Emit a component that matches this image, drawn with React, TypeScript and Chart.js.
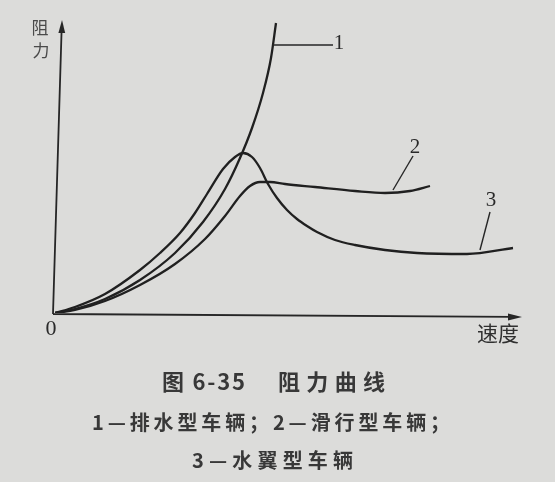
import React, { useEffect, useRef } from 'react';
import { Chart, registerables } from 'chart.js';

Chart.register(...registerables);

// 1 — displacement vessel
const displacementX = [0, 20, 50, 85, 120, 148, 170, 185, 197, 208, 216, 221];
const displacementY = [0, 4, 14, 33, 60, 91, 124, 155, 185, 220, 255, 290];
// 2 — planing vessel
const planingX = [0, 20, 50, 85, 120, 150, 170, 185, 195, 205, 215, 230, 260, 300, 330, 355, 375];
const planingY = [0, 3, 12, 28, 49, 74, 97, 117, 127, 131, 131, 129, 126, 122, 120, 122, 127];
// 3 — hydrofoil vessel
const hydrofoilX = [0, 20, 50, 85, 105, 125, 140, 152, 168, 180, 188, 197, 205, 213, 222, 232, 242, 252, 262, 280, 300, 330, 362, 412, 458];
const hydrofoilY = [0, 6, 19, 43, 60, 80, 100, 119, 144, 156, 160, 156, 145, 129, 115, 103, 94, 87, 81, 73, 68, 63, 60, 59, 65];

const curveLabels = ['1', '2', '3'];
// leader: anchor on curve -> end near label (data units); label centre (data units)
const leaderFromX = [218, 338, 425];
const leaderFromY = [268, 123, 63];
const leaderToX = [278, 358, 435];
const leaderToY = [268, 157, 101];
const labelX = [284, 360, 436];
const labelY = [270, 166, 113];

const yAxisTitle = ['阻', '力'];
const xAxisTitle = '速度';
const originLabel = '0';
const captionTitleA = '图 6-35';
const captionTitleB = '阻力曲线';
const captionLine2 = '1—排水型车辆；2—滑行型车辆；';
const captionLine3 = '3—水翼型车辆';

const toPts = (xs: number[], ys: number[]) => xs.map((x, i) => ({ x, y: ys[i] }));

function fitText(ctx: any, text: string, left: number, cy: number, width: number) {
  ctx.letterSpacing = '0px';
  const w0 = ctx.measureText(text).width;
  const n = Array.from(text).length;
  const sp = n > 1 ? (width - w0) / (n - 1) : 0;
  ctx.letterSpacing = sp + 'px';
  ctx.textAlign = 'left';
  ctx.fillText(text, left, cy);
  ctx.letterSpacing = '0px';
}

const paperPlugin = {
  id: 'paper',
  beforeDraw(chart: any) {
    const { ctx, width, height } = chart;
    ctx.save();
    ctx.fillStyle = '#dcdcda';
    ctx.fillRect(0, 0, width, height);
    ctx.restore();
  },
  beforeDatasetsDraw(chart: any) {
    const { ctx } = chart;
    const xs = chart.scales.x;
    const ys = chart.scales.y;
    const ox = xs.getPixelForValue(0) - 2;
    const oy = ys.getPixelForValue(0) + 1;
    const yTipX = ox + 9;
    const yTip = ys.getPixelForValue(ys.max) - 2;
    const xTip = xs.getPixelForValue(xs.max) + 2;
    const xTipY = oy + 3;
    ctx.save();
    ctx.strokeStyle = '#262626';
    ctx.fillStyle = '#262626';
    ctx.lineWidth = 1.8;
    ctx.beginPath();
    ctx.moveTo(ox, oy);
    ctx.lineTo(yTipX - 0.4, yTip + 10);
    ctx.moveTo(ox, oy);
    ctx.lineTo(xTip - 10, xTipY - 0.1);
    ctx.stroke();
    ctx.beginPath();
    ctx.moveTo(yTipX, yTip);
    ctx.lineTo(yTipX - 3.6, yTip + 13);
    ctx.lineTo(yTipX + 3.2, yTip + 13);
    ctx.closePath();
    ctx.fill();
    ctx.beginPath();
    ctx.moveTo(xTip, xTipY);
    ctx.lineTo(xTip - 14, xTipY - 3.5);
    ctx.lineTo(xTip - 14, xTipY + 3.5);
    ctx.closePath();
    ctx.fill();
    ctx.restore();
  },
  afterDraw(chart: any) {
    const { ctx } = chart;
    const xs = chart.scales.x;
    const ys = chart.scales.y;
    ctx.save();
    ctx.strokeStyle = '#262626';
    ctx.lineWidth = 1.4;
    for (let i = 0; i < curveLabels.length; i++) {
      ctx.beginPath();
      ctx.moveTo(xs.getPixelForValue(leaderFromX[i]), ys.getPixelForValue(leaderFromY[i]));
      ctx.lineTo(xs.getPixelForValue(leaderToX[i]), ys.getPixelForValue(leaderToY[i]));
      ctx.stroke();
    }
    ctx.fillStyle = '#2a2a2a';
    ctx.font = '21px "Liberation Serif", "DejaVu Serif", serif';
    ctx.textBaseline = 'middle';
    ctx.textAlign = 'center';
    for (let i = 0; i < curveLabels.length; i++) {
      ctx.fillText(curveLabels[i], xs.getPixelForValue(labelX[i]), ys.getPixelForValue(labelY[i]));
    }
    ctx.font = '22px "Liberation Serif", "DejaVu Serif", serif';
    ctx.fillText(originLabel, 51, 329);
    // axis titles
    ctx.fillStyle = '#4a4a4a';
    ctx.font = '17px "Noto Sans CJK SC", sans-serif';
    ctx.fillText(yAxisTitle[0], 40, 28);
    ctx.fillText(yAxisTitle[1], 41, 51);
    ctx.fillStyle = '#303030';
    ctx.font = '21px "Noto Sans CJK SC", sans-serif';
    ctx.fillText(xAxisTitle, 498, 333);
    // caption
    ctx.fillStyle = '#383838';
    ctx.font = 'bold 22px "Noto Sans CJK SC", sans-serif';
    fitText(ctx, captionTitleA, 162, 382, 83);
    fitText(ctx, captionTitleB, 278, 382, 107);
    ctx.font = 'bold 20px "Noto Sans CJK SC", sans-serif';
    fitText(ctx, captionLine2, 92, 422, 358);
    fitText(ctx, captionLine3, 192, 460, 161);
    ctx.restore();
  },
};

export default function App() {
  const ref = useRef<HTMLCanvasElement>(null);
  useEffect(() => {
    const line = (data: { x: number; y: number }[], label: string) => ({
      label,
      data,
      showLine: true,
      borderColor: '#202020',
      borderWidth: 2.3,
      pointRadius: 0,
      cubicInterpolationMode: 'monotone' as const,
      fill: false,
    });
    const chart = new Chart(ref.current!, {
      type: 'scatter',
      data: {
        datasets: [
          line(toPts(displacementX, displacementY), curveLabels[0]),
          line(toPts(planingX, planingY), curveLabels[1]),
          line(toPts(hydrofoilX, hydrofoilY), curveLabels[2]),
        ],
      },
      options: {
        responsive: false,
        animation: false,
        devicePixelRatio: 1,
        layout: { padding: { left: 55, right: 35, top: 22, bottom: 169 } },
        plugins: { legend: { display: false }, tooltip: { enabled: false } },
        scales: {
          x: { type: 'linear', min: 0, max: 465, display: false },
          y: { type: 'linear', min: 0, max: 291, display: false },
        },
      },
      plugins: [paperPlugin],
    });
    return () => chart.destroy();
  }, []);
  return (
    <div style={{ position: 'fixed', left: 0, top: 0, width: 555, height: 482, background: '#dcdcda' }}>
      <canvas ref={ref} width={555} height={482} style={{ display: 'block', width: 555, height: 482 }} />
    </div>
  );
}
